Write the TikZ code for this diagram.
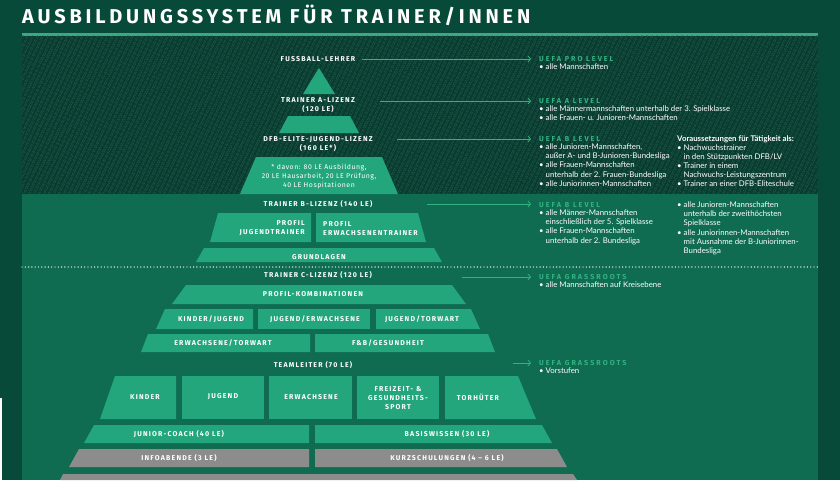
\documentclass[tikz,border=0pt]{standalone}
\usepackage{fontspec}
\setmainfont{Lato}
\newfontfamily\capsfont[LetterSpace=17]{Fira Sans}
\newfontfamily\headfont[LetterSpace=28]{Fira Sans}
\newfontfamily\notefont[LetterSpace=8]{Fira Sans}
\newfontfamily\titlefont[LetterSpace=19]{Fira Sans}
\usetikzlibrary{positioning,arrows.meta,patterns.meta}

\definecolor{outergreen}{HTML}{084A3A}
\definecolor{midgreen}{HTML}{0F6C51}
\definecolor{hatchbase}{HTML}{083C30}
\definecolor{hatchline}{HTML}{145543}
\definecolor{blockgreen}{HTML}{23A67B}
\definecolor{bandgrey}{HTML}{8C8C8C}
\definecolor{uefagreen}{HTML}{35B181}
\definecolor{rulegreen}{HTML}{3EA783}

\tikzset{
  band/.style={fill=blockgreen},
  greyband/.style={fill=bandgrey},
  lab/.style={font=\capsfont\bfseries\fontsize{7}{9}\selectfont, text=white, inner sep=0pt, align=center},
  head/.style={font=\headfont\bfseries\fontsize{7.2}{9}\selectfont, text=uefagreen, inner sep=0pt, anchor=west},
  body/.style={font=\fontsize{7.8}{9.2}\selectfont, text=white, inner sep=0pt, align=left},
  uarrow/.style={draw=uefagreen, line width=0.8pt, shorten >=8pt, -{Straight Barb[length=2.5pt,width=6pt]}},
}
\newcommand{\ind}{\hphantom{\textbullet\ }}

\begin{document}
\begin{tikzpicture}[x=1pt,y=-1pt]
\useasboundingbox (0,0) rectangle (840,480);
\fill[outergreen] (0,0) rectangle (840,480);
\fill[white] (0,398) rectangle (1.5,480);

% title and rule
\node[anchor=west, inner sep=0pt, text=white, font=\titlefont\bfseries\fontsize{20}{21}\selectfont] (title) at (22,15) {AUSBILDUNGSSYSTEM FÜR TRAINER/INNEN};
\fill[rulegreen] (22,33) rectangle (818,35.5);

% panels
\fill[hatchbase] (22,35.5) rectangle (818,194);
\fill[pattern={Lines[angle=65,distance=4pt,line width=0.7pt]}, pattern color=hatchline] (22,35.5) rectangle (818,194);
\fill[midgreen] (22,194) rectangle (818,480);
\draw[white, line width=1.4pt, line cap=round, dash pattern=on 0pt off 3.3pt] (22,267) -- (818,267);

% top of the pyramid
\fill[band] (319,68) -- (335,94) -- (303,94) -- cycle;
\fill[band] (288,116) -- (350,116) -- (359,133) -- (279,133) -- cycle;
\fill[band] (256,157) -- (382,157) -- (398,194) -- (240,194) -- cycle;

\node[lab] (lehrer) at (318,59) {FUSSBALL-LEHRER};
\node[lab] (alizenz) at (318,105.5) {TRAINER A-LIZENZ\\(120 LE)};
\node[lab] (elite) at (318,144) {DFB-ELITE-JUGEND-LIZENZ\\(160 LE*)};
\node[lab, font=\notefont\fontsize{6.9}{9.3}\selectfont] (davon) at (319,176.5) {* davon: 80 LE Ausbildung,\\20 LE Hausarbeit, 20 LE Prüfung,\\40 LE Hospitationen};

% B-Lizenz
\fill[band] (218,213) -- (311,213) -- (311,242) -- (210,242) -- cycle;
\fill[band] (316,213) -- (418,213) -- (426,242) -- (316,242) -- cycle;
\fill[band] (204,248) -- (434,248) -- (442,262) -- (196,262) -- cycle;

\node[lab] (blizenz) at (318,204) {TRAINER B-LIZENZ (140 LE)};
\node[lab, align=right, anchor=east] (pjugend) at (305,228.5) {PROFIL\\JUGENDTRAINER};
\node[lab, align=left, anchor=west] (perw) at (323,228.5) {PROFIL\\ERWACHSENENTRAINER};
\node[lab] (grund) at (319,257) {GRUNDLAGEN};

% C-Lizenz
\fill[band] (186,285) -- (452,285) -- (466,304) -- (172,304) -- cycle;
\fill[band] (165,309) -- (253,309) -- (253,329) -- (156,329) -- cycle;
\fill[band] (258,309) rectangle (370,329);
\fill[band] (376,309) -- (471,309) -- (480,329) -- (376,329) -- cycle;
\fill[band] (148,334) -- (310,334) -- (310,352) -- (141,352) -- cycle;
\fill[band] (315,334) -- (488,334) -- (495,352) -- (315,352) -- cycle;

\node[lab] (clizenz) at (318,275) {TRAINER C-LIZENZ (120 LE)};
\node[lab] (kombi) at (313,294.5) {PROFIL-KOMBINATIONEN};
\node[lab] (kj) at (211,319) {KINDER/JUGEND};
\node[lab] (je) at (315,319) {JUGEND/ERWACHSENE};
\node[lab] (jt) at (422,319) {JUGEND/TORWART};
\node[lab] (et) at (223,343) {ERWACHSENE/TORWART};
\node[lab] (fb) at (388,343) {F\&B/GESUNDHEIT};

% Teamleiter and below
\fill[band] (115,376) -- (176,376) -- (176,419) -- (100,419) -- cycle;
\fill[band] (182,376) rectangle (264,419);
\fill[band] (269,376) rectangle (352,419);
\fill[band] (357,376) rectangle (439,419);
\fill[band] (445,376) -- (518,376) -- (536,419) -- (445,419) -- cycle;
\fill[band] (94,425) -- (309,425) -- (309,443) -- (84,443) -- cycle;
\fill[band] (315,425) -- (542,425) -- (552,443) -- (315,443) -- cycle;
\fill[greyband] (79,449) -- (309,449) -- (309,467) -- (69,467) -- cycle;
\fill[greyband] (315,449) -- (557,449) -- (567,467) -- (315,467) -- cycle;
\fill[greyband] (63,474) -- (573,474) -- (577,480) -- (60,480) -- cycle;

\node[lab] (teamleiter) at (313,365) {TEAMLEITER (70 LE)};
\node[lab] (kinder) at (145,397) {KINDER};
\node[lab] (jugend) at (223,397) {JUGEND};
\node[lab] (erw) at (311,397) {ERWACHSENE};
\node[lab] (freizeit) at (398,398) {FREIZEIT- \&\\GESUNDHEITS-\\SPORT};
\node[lab] (torh) at (478,397) {TORHÜTER};
\node[lab] (junior) at (179,434) {JUNIOR-COACH (40 LE)};
\node[lab] (basis) at (447,434) {BASISWISSEN (30 LE)};
\node[lab] (info) at (179,458) {INFOABENDE (3 LE)};
\node[lab] (kurz) at (447,458) {KURZSCHULUNGEN (4 – 6 LE)};

% UEFA levels
\node[head] (uPro) at (539,59) {UEFA PRO LEVEL};
\node[body, below=1.8pt of uPro.south west, anchor=north west] (tPro) {\textbullet\ alle Mannschaften};

\node[head] (uA) at (539,101) {UEFA A LEVEL};
\node[body, below=1.8pt of uA.south west, anchor=north west] (tA) {\textbullet\ alle Männermannschaften unterhalb der 3. Spielklasse\\\textbullet\ alle Frauen- u. Junioren-Mannschaften};

\node[head] (uB) at (539,139) {UEFA B LEVEL};
\node[body, below=1.8pt of uB.south west, anchor=north west] (tB) {\textbullet\ alle Junioren-Mannschaften,\\\ind außer A- und B-Junioren-Bundesliga\\\textbullet\ alle Frauen-Mannschaften\\\ind unterhalb der 2. Frauen-Bundesliga\\\textbullet\ alle Juniorinnen-Mannschaften};

\node[body, anchor=west, font=\bfseries\fontsize{7.8}{9.2}\selectfont] (voraus) at (677,139) {Voraussetzungen für Tätigkeit als:};
\node[body, below=1.4pt of voraus.south west, anchor=north west] (tVoraus) {\textbullet\ Nachwuchstrainer\\\ind in den Stützpunkten DFB/LV\\\textbullet\ Trainer in einem\\\ind Nachwuchs-Leistungszentrum\\\textbullet\ Trainer an einer DFB-Eliteschule};

\node[head] (uB2) at (539,205) {UEFA B LEVEL};
\node[body, below=1.8pt of uB2.south west, anchor=north west] (tB2) {\textbullet\ alle Männer-Mannschaften\\\ind einschließlich der 5. Spielklasse\\\textbullet\ alle Frauen-Mannschaften\\\ind unterhalb der 2. Bundesliga};
\node[body, anchor=north west] (tB3) at (677,201.5) {\textbullet\ alle Junioren-Mannschaften\\\ind unterhalb der zweithöchsten\\\ind Spielklasse\\\textbullet\ alle Juniorinnen-Mannschaften\\\ind mit Ausnahme der B-Juniorinnen-\\\ind Bundesliga};

\node[head] (uGr) at (539,277) {UEFA GRASSROOTS};
\node[body, below=1.8pt of uGr.south west, anchor=north west] (tGr) {\textbullet\ alle Mannschaften auf Kreisebene};

\node[head] (uGr2) at (539,363) {UEFA GRASSROOTS};
\node[body, below=1.8pt of uGr2.south west, anchor=north west] (tGr2) {\textbullet\ Vorstufen};

% connectors
\coordinate (sPro) at (362,59);
\coordinate (sA) at (380,101);
\coordinate (sB) at (397,139);
\coordinate (sB2) at (427,204);
\coordinate (sGr) at (462,277);
\coordinate (sGr2) at (513,363);
\draw[uarrow] (sPro) -- (sPro -| uPro.west);
\draw[uarrow] (sA) -- (sA -| uA.west);
\draw[uarrow] (sB) -- (sB -| uB.west);
\draw[uarrow] (sB2) -- (sB2 -| uB2.west);
\draw[uarrow] (sGr) -- (sGr -| uGr.west);
\draw[uarrow] (sGr2) -- (sGr2 -| uGr2.west);
\end{tikzpicture}
\end{document}
